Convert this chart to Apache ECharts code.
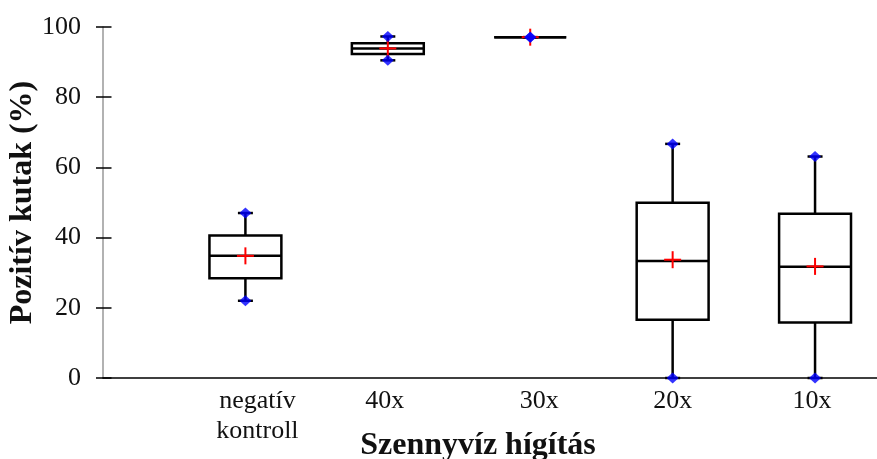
<!DOCTYPE html>
<html>
<head>
<meta charset="utf-8">
<script src="https://cdn.jsdelivr.net/npm/echarts@6/dist/echarts.min.js"></script>
<style>html,body{margin:0;padding:0;background:#fff}#c{width:877px;height:459px}</style>
</head>
<body>
<div id="c"></div>
<script>
// ---- data ----
const categories = ['negatív\nkontroll', '40x', '30x', '20x', '10x'];
const minV    = [22.0, 90.5, 97.1, 0.0, 0.0];
const q1V     = [28.4, 92.3, 97.1, 16.6, 15.8];
const medianV = [34.8, 93.9, 97.1, 33.3, 31.7];
const q3V     = [40.6, 95.4, 97.1, 49.9, 46.8];
const maxV    = [47.0, 97.3, 97.1, 66.7, 63.1];
const meanV   = [34.8, 93.9, 97.1, 33.7, 31.8];
const yTicks  = [0, 20, 40, 60, 80, 100];

// ---- styles ----
const FONT = 'Liberation Serif';
const BOX_W = 0.505;           // in x-axis units
const labelShift = [12, -3, 9, 0, -3]; // px shift of category labels

const boxData = categories.map((c, i) => [i + 1, minV[i], q1V[i], medianV[i], q3V[i], maxV[i]]);
const meanData = categories.map((c, i) => [i + 1, meanV[i]]);
const endData = [];
categories.forEach((c, i) => { endData.push([i + 1, minV[i]]); endData.push([i + 1, maxV[i]]); });

function renderBox(params, api) {
  const x = api.value(0);
  const lo = api.coord([x, api.value(1)]);
  const b1 = api.coord([x, api.value(2)]);
  const md = api.coord([x, api.value(3)]);
  const b3 = api.coord([x, api.value(4)]);
  const hi = api.coord([x, api.value(5)]);
  const hw = api.size([BOX_W, 0])[0] / 2;
  const cap = 7.5;
  const ls = { stroke: '#000', lineWidth: 2.5 };
  const cx = md[0];
  return {
    type: 'group',
    children: [
      { type: 'line', shape: { x1: cx, y1: hi[1], x2: cx, y2: b3[1] }, style: ls },
      { type: 'line', shape: { x1: cx, y1: b1[1], x2: cx, y2: lo[1] }, style: ls },
      { type: 'line', shape: { x1: cx - cap, y1: hi[1], x2: cx + cap, y2: hi[1] }, style: ls },
      { type: 'line', shape: { x1: cx - cap, y1: lo[1], x2: cx + cap, y2: lo[1] }, style: ls },
      { type: 'rect', shape: { x: cx - hw, y: b3[1], width: 2 * hw, height: b1[1] - b3[1] }, style: { stroke: '#000', lineWidth: 2.5, fill: '#fff' } },
      { type: 'line', shape: { x1: cx - hw, y1: md[1], x2: cx + hw, y2: md[1] }, style: ls }
    ]
  };
}

function renderPlus(params, api) {
  const p = api.coord([api.value(0), api.value(1)]);
  const h = 8.5;
  const ls = { stroke: '#ff0000', lineWidth: 2 };
  return {
    type: 'group',
    children: [
      { type: 'line', shape: { x1: p[0] - h, y1: p[1], x2: p[0] + h, y2: p[1] }, style: ls },
      { type: 'line', shape: { x1: p[0], y1: p[1] - h, x2: p[0], y2: p[1] + h }, style: ls }
    ]
  };
}

const rich = {};
labelShift.forEach((s, i) => {
  rich['c' + i] = {
    fontFamily: FONT, fontSize: 26, color: '#111', lineHeight: 30,
    padding: s >= 0 ? [0, 0, 0, 2 * s] : [0, -2 * s, 0, 0]
  };
});

const chart = echarts.init(document.getElementById('c'), null, { renderer: 'canvas' });
chart.setOption({
  animation: false,
  backgroundColor: '#fff',
  grid: { left: 103, right: 0, top: 27, bottom: 81, containLabel: false, outerBoundsMode: 'none' },
  xAxis: {
    type: 'value', min: 0, max: 5.435, interval: 1,
    splitLine: { show: false },
    axisTick: { show: false },
    axisLine: { lineStyle: { color: '#000', width: 1.5 } },
    axisLabel: {
      margin: 8,
      showMinLabel: false, showMaxLabel: false,
      formatter: v => {
        const i = Math.round(v) - 1;
        if (i < 0 || i >= categories.length || Math.abs(v - i - 1) > 1e-6) return '';
        return categories[i].split('\n').map(t => '{c' + i + '|' + t + '}').join('\n');
      },
      rich: rich
    },
    name: 'Szennyvíz hígítás',
    nameLocation: 'middle',
    nameGap: 52,
    nameMoveOverlap: false,
    nameTextStyle: { fontFamily: FONT, fontSize: 32, fontWeight: 'bold', color: '#111', padding: [0, 24, 0, 0] }
  },
  yAxis: [{
    type: 'value', min: yTicks[0], max: yTicks[yTicks.length - 1], interval: 20,
    splitLine: { show: false },
    axisLine: { show: true, lineStyle: { color: '#999', width: 1.5 } },
    axisTick: { show: true, length: 7, lineStyle: { color: '#000', width: 1.5 } },
    axisLabel: { margin: 22, fontFamily: FONT, fontSize: 26, color: '#111' },
    name: 'Pozitív kutak (%)',
    nameLocation: 'middle',
    nameGap: 64,
    nameMoveOverlap: false,
    nameTextStyle: { fontFamily: FONT, fontSize: 32, fontWeight: 'bold', color: '#111' }
  }, {
    type: 'value', min: yTicks[0], max: yTicks[yTicks.length - 1], interval: 20,
    position: 'left',
    splitLine: { show: false },
    axisLine: { show: false },
    axisTick: { show: true, inside: true, length: 8.5, lineStyle: { color: '#000', width: 1.5 } },
    axisLabel: { show: false }
  }],
  series: [
    { type: 'custom', z: 2, renderItem: renderBox, data: boxData, encode: { x: 0, y: [1, 2, 3, 4, 5] } },
    { type: 'custom', z: 3, renderItem: renderPlus, data: meanData, encode: { x: 0, y: 1 } },
    { type: 'scatter', z: 4, symbol: 'diamond', symbolSize: [12, 11], itemStyle: { color: '#0000ff' }, data: endData }
  ]
});
</script>
</body>
</html>
